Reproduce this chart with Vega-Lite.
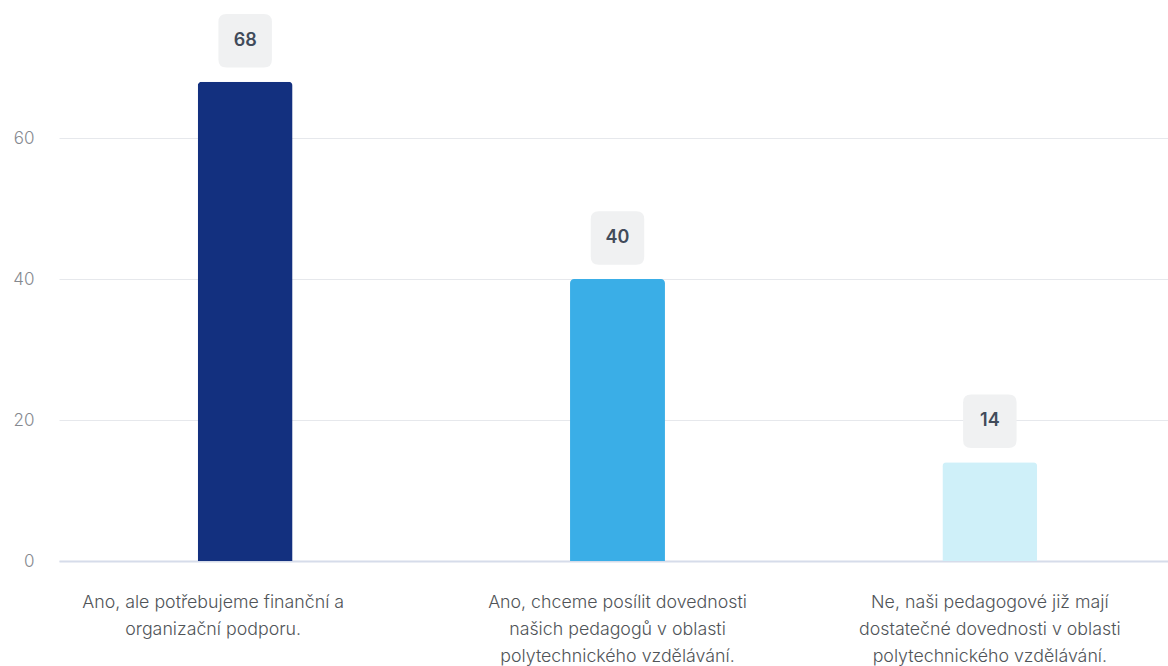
{
  "$schema": "https://vega.github.io/schema/vega-lite/v6.json",
  "width": 1117,
  "height": 561,
  "autosize": {"type": "none"},
  "padding": {"left": 59, "top": 0, "right": 0, "bottom": 105},
  "background": "white",
  "config": {"view": {"stroke": null}, "font": "Inter"},
  "data": {
    "values": [
      {"answer": "Ano, ale potřebujeme finanční a|organizační podporu.", "count": 68, "c": "a"},
      {"answer": "Ano, chceme posílit dovednosti|našich pedagogů v oblasti|polytechnického vzdělávání.", "count": 40, "c": "b"},
      {"answer": "Ne, naši pedagogové již mají|dostatečné dovednosti v oblasti|polytechnického vzdělávání.", "count": 14, "c": "c"}
    ]
  },
  "encoding": {
    "x": {
      "field": "answer", "type": "nominal", "sort": null,
      "scale": {"paddingInner": 0.745, "paddingOuter": 0.3725},
      "axis": {
        "title": null, "labelAngle": 0, "labelExpr": "split(datum.label, '|')",
        "labelFont": "Inter", "labelFontSize": 17.8, "labelFontWeight": 300, "labelColor": "#505458",
        "labelLineHeight": 27, "labelPadding": 32, "labelBaseline": "top",
        "labelOffset": {"condition": {"test": "indexof(datum.value, 'finanční') >= 0", "value": -32}, "value": 0},
        "ticks": false, "domainColor": "#d6dcea", "domainWidth": 2,
        "labelLimit": 400, "grid": false
      }
    },
    "y": {
      "field": "count", "type": "quantitative",
      "scale": {"domain": [0, 79.6], "nice": false},
      "axis": {
        "title": null, "values": [0, 20, 40, 60], "domain": false, "ticks": false,
        "labelFont": "Inter", "labelFontSize": 17, "labelFontWeight": 300, "labelColor": "#85898f",
        "labelPadding": 25, "gridColor": "#e6e8ec", "gridWidth": 1
      }
    }
  },
  "layer": [
    {
      "mark": {"type": "bar", "cornerRadiusTopLeft": 4, "cornerRadiusTopRight": 4},
      "encoding": {
        "color": {
          "field": "c", "type": "nominal", "legend": null,
          "scale": {"domain": ["a", "b", "c"], "range": ["#13307f", "#3aaee7", "#cff0f9"]}
        }
      }
    },
    {
      "mark": {
        "type": "point", "filled": true, "opacity": 1, "color": "#f0f1f2", "strokeWidth": 0,
        "shape": "M -0.7,-1 H 0.7 Q 1,-1 1,-0.7 V 0.7 Q 1,1 0.7,1 H -0.7 Q -1,1 -1,0.7 V -0.7 Q -1,-1 -0.7,-1 Z",
        "size": 2862, "yOffset": -41
      }
    },
    {
      "mark": {
        "type": "text", "yOffset": -41, "font": "Inter", "fontSize": 18, "fontWeight": 600,
        "color": "#414b5a", "baseline": "middle", "align": "center"
      },
      "encoding": {"text": {"field": "count", "type": "quantitative"}}
    }
  ]
}
